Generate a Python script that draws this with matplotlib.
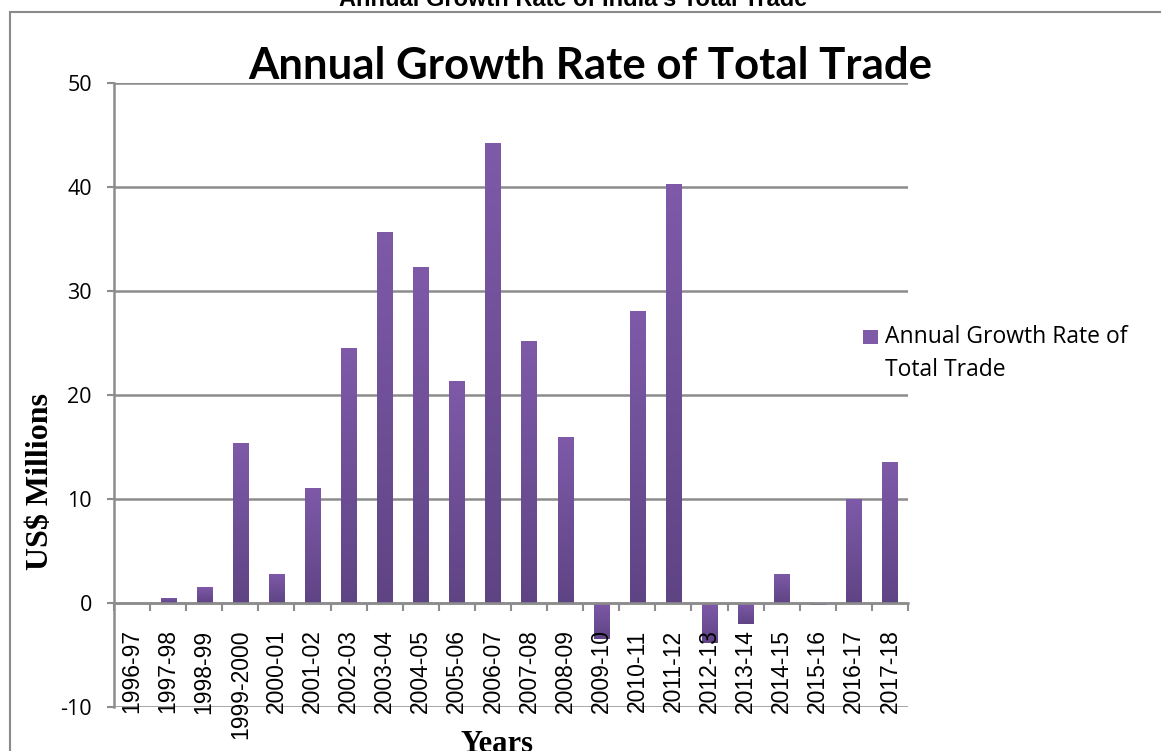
import numpy as np
import matplotlib
matplotlib.use("Agg")
import matplotlib.pyplot as plt
from matplotlib.colors import LinearSegmentedColormap
from matplotlib.patches import Rectangle

years = ["1996-97", "1997-98", "1998-99", "1999-2000", "2000-01", "2001-02",
         "2002-03", "2003-04", "2004-05", "2005-06", "2006-07", "2007-08",
         "2008-09", "2009-10", "2010-11", "2011-12", "2012-13", "2013-14",
         "2014-15", "2015-16", "2016-17", "2017-18"]
growth = [0.0, 0.5, 1.5, 15.4, 2.8, 11.1, 24.5, 35.7, 32.3, 21.3, 44.2, 25.2,
          16.0, -3.5, 28.1, 40.3, -3.8, -2.0, 2.8, -0.2, 10.0, 13.6]
y_ticks = [-10, 0, 10, 20, 30, 40, 50]
legend_lines = ["Annual Growth Rate of", "Total Trade"]

LIGHT = "#7e5aa9"
DARK = "#5f4484"
GRID = "#8c8c8c"
W, H = 1161, 751

fig = plt.figure(figsize=(W / 100, H / 100), dpi=100)
ax = fig.add_axes([114 / W, 1 - 707 / H, (908 - 114) / W, (707 - 83) / H])
ax.set_axisbelow(False)  # tick labels drawn over the bars

# outer chart frame (runs off right/bottom edge like the screenshot)
fig.patches.append(Rectangle((10 / W, -0.1), 1.2, 1 - 12 / H + 0.1,
                             transform=fig.transFigure, fill=False,
                             edgecolor="#8a8a8a", linewidth=1.5))

# spine position first: it resets tick settings
ax.spines["bottom"].set_position(("data", 0))
for s in ("bottom", "left"):
    ax.spines[s].set_color(GRID)
    ax.spines[s].set_linewidth(1.8)
ax.spines["top"].set_visible(False)
ax.spines["right"].set_visible(False)

# gridlines behind bars
for v in y_ticks:
    ax.axhline(v, color=GRID, linewidth=1.8, zorder=0.5)

x = np.arange(len(years))
bars = ax.bar(x, growth, width=0.42, color=LIGHT, zorder=2)

# vertical gradient inside each bar
cmap = LinearSegmentedColormap.from_list("bar", [DARK, LIGHT])
grad = np.linspace(0, 1, 256).reshape(-1, 1)
for b in bars:
    h = b.get_height()
    if abs(h) < 1e-9:
        continue
    x0, w = b.get_x(), b.get_width()
    lo, hi = min(0, h), max(0, h)
    im = ax.imshow(grad, cmap=cmap, origin="lower", aspect="auto",
                   extent=(x0, x0 + w, lo, hi), zorder=2)
    im.set_clip_path(b)
    b.set_facecolor("none")
    b.set_edgecolor("none")

ax.set_xlim(-0.5, len(years) - 0.5)
ax.set_ylim(-10, 50)
ax.set_yticks(y_ticks)
ax.set_yticklabels([str(v) for v in y_ticks], fontsize=15.5, family="Open Sans")

ax.set_xticks(x)
ax.set_xticklabels(years, rotation=90, fontsize=16.5, family="Liberation Sans", va="top")
ax.set_xticks(np.arange(len(years) + 1) - 0.5, minor=True)
ax.tick_params(axis="x", which="major", length=0, pad=19)
ax.tick_params(axis="x", which="minor", length=6, width=1.5, color=GRID, direction="out")
ax.tick_params(axis="y", length=5, width=1.5, color=GRID, pad=11)

fig.text(573 / W, 1 - 6 / H, "Annual Growth Rate of India's Total Trade", ha="center",
         va="baseline", fontsize=17, fontweight="bold", family="Liberation Sans")
fig.text(590 / W, 1 - 79 / H, "Annual Growth Rate of Total Trade", ha="center",
         va="baseline", fontsize=31.5, fontweight="bold", family="Lato")
fig.text(41 / W, 1 - 481 / H, "US$ Millions", rotation=90, ha="center", va="center",
         fontsize=23, fontweight="bold", family="Liberation Serif")
fig.text(497 / W, 1 - 752 / H, "Years", ha="center", va="baseline",
         fontsize=22, fontweight="bold", family="Liberation Serif")

# legend
fig.patches.append(Rectangle((863 / W, 1 - 344 / H), 15 / W, 14 / H,
                             transform=fig.transFigure, facecolor=LIGHT,
                             edgecolor="none"))
for i, line in enumerate(legend_lines):
    fig.text(885 / W, 1 - (343 + 33 * i) / H, line, ha="left", va="baseline",
             fontsize=16.5, family="Open Sans")

fig.savefig("out.png", dpi=100)
